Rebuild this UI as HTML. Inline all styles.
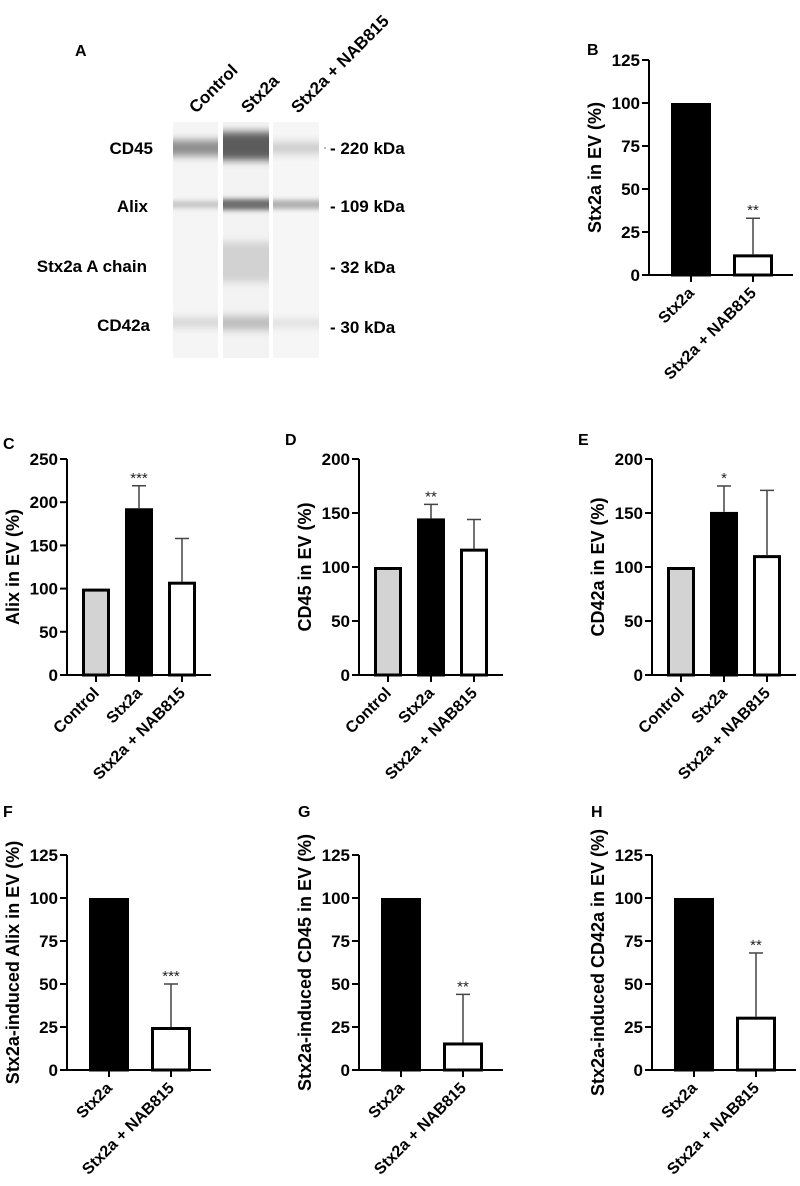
<!DOCTYPE html>
<html><head><meta charset="utf-8"><style>
body{margin:0;background:#fff}
svg{display:block;font-family:"Liberation Sans",Arial,sans-serif}
</style></head><body>
<svg id="fig" width="800" height="1186" viewBox="0 0 800 1186">
<defs><filter id="blur" x="-20%" y="-100%" width="140%" height="300%"><feGaussianBlur stdDeviation="0 4"/></filter>
<filter id="blur2" x="-20%" y="-100%" width="140%" height="300%"><feGaussianBlur stdDeviation="0 2.5"/></filter></defs>
<g id="blot">
<text x="75" y="56" font-size="16" font-weight="bold">A</text>
<text transform="translate(196,114) rotate(-45)" font-size="17" font-weight="bold">Control</text>
<text transform="translate(248,114) rotate(-45)" font-size="17" font-weight="bold">Stx2a</text>
<text transform="translate(298,114) rotate(-45)" font-size="17" font-weight="bold">Stx2a + NAB815</text>
<rect x="173" y="122" width="45" height="236" fill="#f5f5f5"/>
<rect x="223" y="122" width="46" height="236" fill="#f3f3f3"/>
<rect x="273" y="122" width="46" height="236" fill="#f6f6f6"/>
<g filter="url(#blur)">
<rect x="173" y="140" width="45" height="16" fill="#8e8e8e"/>
<rect x="223" y="132" width="46" height="28" fill="#5c5c5c"/>
<rect x="273" y="142" width="46" height="12" fill="#cdcdcd"/>
<rect x="223" y="242" width="46" height="40" fill="#d2d2d2"/>
<rect x="173" y="318" width="45" height="9" fill="#d3d3d3"/>
<rect x="223" y="316" width="46" height="14" fill="#bdbdbd"/>
<rect x="273" y="319" width="46" height="8" fill="#dedede"/>
</g>
<g filter="url(#blur2)">
<rect x="173" y="201" width="45" height="7" fill="#c6c6c6"/>
<rect x="223" y="199" width="46" height="11" fill="#6e6e6e"/>
<rect x="273" y="200" width="46" height="9" fill="#b0b0b0"/>
</g>
<g font-size="17" font-weight="bold" text-anchor="end">
<text x="153" y="154">CD45</text>
<text x="148" y="212">Alix</text>
<text x="147" y="272">Stx2a A chain</text>
<text x="150" y="331">CD42a</text>
</g>
<g font-size="17" font-weight="bold">
<text x="330" y="154">- 220 kDa</text>
<text x="330" y="212">- 109 kDa</text>
<text x="330" y="273">- 32 kDa</text>
<text x="330" y="333">- 30 kDa</text>
</g>
<circle cx="325" cy="148" r="0.7" fill="#555"/>
</g>
</svg>
<script>
// Panel data
const catsThree = ["Control", "Stx2a", "Stx2a + NAB815"];
const catsTwo = ["Stx2a", "Stx2a + NAB815"];
const valuesB = [100, 12];
const errorsB = [null, 33];
const starsB = ["", "**"];
const valuesC = [100, 193, 108];
const errorsC = [null, 219, 158];
const starsC = ["", "***", ""];
const valuesD = [100, 145, 117];
const errorsD = [null, 158, 144];
const starsD = ["", "**", ""];
const valuesE = [100, 151, 111];
const errorsE = [null, 175, 171];
const starsE = ["", "*", ""];
const valuesF = [100, 25];
const errorsF = [null, 50];
const starsF = ["", "***"];
const valuesG = [100, 16];
const errorsG = [null, 44];
const starsG = ["", "**"];
const valuesH = [100, 31];
const errorsH = [null, 68];
const starsH = ["", "**"];
const ticks250 = [0, 50, 100, 150, 200, 250];
const ticks200 = [0, 50, 100, 150, 200];
const ticks125 = [0, 25, 50, 75, 100, 125];

const NS = "http://www.w3.org/2000/svg";
const svg = document.getElementById("fig");
function mk(tag, attrs, parent) {
  const e = document.createElementNS(NS, tag);
  for (const k in attrs) e.setAttribute(k, attrs[k]);
  parent.appendChild(e);
  return e;
}
function panel(o) {
  const g = mk("g", {}, svg);
  
  
  const yMax = o.ticks[o.ticks.length - 1];
  const yS = v => o.y0 - (v / yMax) * (o.y0 - o.yTop);
  const three = o.cats.length === 3;
  const bw = three ? 28 : 40;
  const offs = three ? [15, 58, 101] : [22, 84];
  const fills = three ? ["#d3d3d3", "#000", "#fff"] : ["#000", "#fff"];
  const L = mk("text", {x: o.lx, y: o.ly, "font-size": 16, "font-weight": "bold"}, g);
  L.textContent = o.letter;
  
  
  o.values.forEach((v, i) => {
    const x = o.ax + offs[i];
    const r = mk("rect", {x: x + 1.5, y: yS(v) + 1.5, width: bw - 3, height: o.y0 - yS(v) - 1.5, fill: fills[i], stroke: "#000", "stroke-width": 3}, g);
    
    
    const cx = x + bw / 2;
    if (o.errors[i] != null) {
      const e = mk("path", {d: `M${cx},${yS(v)}V${yS(o.errors[i])}M${cx - 7},${yS(o.errors[i])}H${cx + 7}`, stroke: "#444", "stroke-width": 1.5, fill: "none"}, g);
      
      
    }
    if (o.stars[i]) {
      const s = mk("text", {x: cx, y: yS(o.errors[i] != null ? o.errors[i] : v) - 3, "font-size": 15, "text-anchor": "middle", fill: "#222"}, g);
      s.textContent = o.stars[i];
      
      
    }
    const t = mk("line", {x1: cx, x2: cx, y1: o.y0, y2: o.y0 + 7, stroke: "#000", "stroke-width": 2}, g);
    
    
    const lab = mk("text", {transform: `translate(${cx + 4},${o.y0 + 19}) rotate(-45)`, "font-size": 16, "font-weight": "bold", "text-anchor": "end"}, g);
    lab.textContent = o.cats[i];
    
    
  });
  const ya = mk("path", {d: `M${o.ax},${o.yTop}V${o.y0}H${o.ax + 144}`, stroke: "#000", "stroke-width": 2, fill: "none"}, g);
  
  
  o.ticks.forEach(tv => {
    const y = yS(tv);
    const tl = mk("line", {x1: o.ax - 7, x2: o.ax, y1: y, y2: y, stroke: "#000", "stroke-width": 2}, g);
    
    
    const tt = mk("text", {x: o.ax - 9, y: y + 6, "font-size": 17, "font-weight": "bold", "text-anchor": "end"}, g);
    tt.textContent = tv;
    
    
  });
  const tx = o.ax - 55, ty = (o.y0 + o.yTop) / 2;
  const yt = mk("text", {transform: `translate(${tx + 7},${ty}) rotate(-90)`, "font-size": 18, "font-weight": "bold", "text-anchor": "middle"}, g);
  yt.textContent = o.title;
  
  
}
panel({letter: "B", lx: 587, ly: 55, ax: 649, y0: 275, yTop: 60, ticks: ticks125, cats: catsTwo, values: valuesB, errors: errorsB, stars: starsB, title: "Stx2a in EV  (%)"});
panel({letter: "C", lx: 3, ly: 449, ax: 67, y0: 675, yTop: 459, ticks: ticks250, cats: catsThree, values: valuesC, errors: errorsC, stars: starsC, title: "Alix in EV (%)"});
panel({letter: "D", lx: 285, ly: 445, ax: 359, y0: 675, yTop: 459, ticks: ticks200, cats: catsThree, values: valuesD, errors: errorsD, stars: starsD, title: "CD45 in EV (%)"});
panel({letter: "E", lx: 578, ly: 445, ax: 652, y0: 675, yTop: 459, ticks: ticks200, cats: catsThree, values: valuesE, errors: errorsE, stars: starsE, title: "CD42a in EV (%)"});
panel({letter: "F", lx: 3, ly: 817, ax: 67, y0: 1070, yTop: 855, ticks: ticks125, cats: catsTwo, values: valuesF, errors: errorsF, stars: starsF, title: "Stx2a-induced Alix in EV (%)"});
panel({letter: "G", lx: 298, ly: 817, ax: 359, y0: 1070, yTop: 855, ticks: ticks125, cats: catsTwo, values: valuesG, errors: errorsG, stars: starsG, title: "Stx2a-induced CD45 in EV (%)"});
panel({letter: "H", lx: 591, ly: 817, ax: 652, y0: 1070, yTop: 855, ticks: ticks125, cats: catsTwo, values: valuesH, errors: errorsH, stars: starsH, title: "Stx2a-induced CD42a in EV (%)"});
</script>
</body></html>
